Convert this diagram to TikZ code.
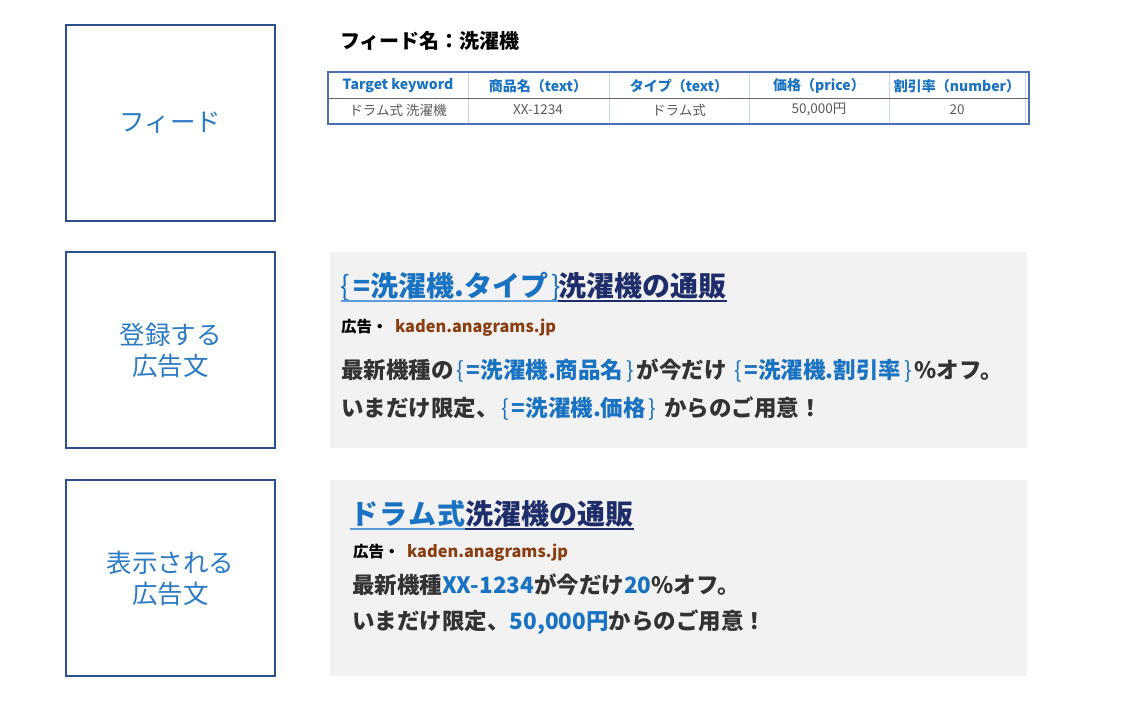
\documentclass[tikz,border=0pt]{standalone}
\usepackage{fontspec}
\setmainfont{Noto Sans CJK JP}
\definecolor{boxborder}{HTML}{2E4F8E}
\definecolor{labelblue}{HTML}{2B7BC4}
\definecolor{phblue}{HTML}{1A72C2}
\definecolor{navy}{HTML}{1F2D6B}
\definecolor{brownurl}{HTML}{8A3D0E}
\definecolor{txtgray}{HTML}{333333}
\definecolor{cellgray}{HTML}{595959}
\definecolor{panelbg}{HTML}{F2F2F2}
\definecolor{tabborder}{HTML}{4A6FB5}
\definecolor{colsep}{HTML}{C9D7EE}
\definecolor{ulblue}{HTML}{5A9BD8}
\newcommand{\lb}{{\mdseries\hspace{2.5pt}\{\hspace{3pt}}}
\newcommand{\rb}{{\mdseries\hspace{3pt}\}\hspace{2.5pt}}}
\tikzset{
  sidebox/.style={draw=boxborder, line width=1.6pt, minimum width=209pt, minimum height=196pt, inner sep=0pt,
    text=labelblue, align=center, font=\fontsize{25.5}{31}\selectfont},
  panel/.style={fill=panelbg, draw=none, minimum width=697pt, minimum height=196pt, inner sep=0pt},
  txt/.style={inner sep=0pt, anchor=base west},
  hdr/.style={inner sep=0pt, text=phblue, font=\fontsize{14}{16}\selectfont\bfseries},
  cell/.style={inner sep=0pt, text=cellgray, font=\fontsize{13.5}{16}\selectfont},
  headfont/.style={font=\fontsize{28}{30}\selectfont\bfseries},
  adfont/.style={font=\fontsize{15.5}{16}\selectfont\bfseries},
  urlfont/.style={font=\fontsize{16.3}{17}\selectfont\bfseries, text=brownurl},
  bodyfont/.style={font=\fontsize{22.5}{24}\selectfont\bfseries, text=txtgray},
}
\begin{document}
\begin{tikzpicture}[x=1pt,y=-1pt]
\useasboundingbox (0,0) rectangle (1126,704);
% left boxes
\node[sidebox] (b1) at (170.5,123) {フィード};
\node[sidebox] (b2) at (170.5,350) {登録する\\広告文};
\node[sidebox] (b3) at (170.5,578) {表示される\\広告文};
% feed title
\node[txt, font=\fontsize{20}{21}\selectfont\bfseries] (ftitle) at (340,48) {フィード名：洗濯機};
% table
\draw[colsep, line width=0.8pt] (468,72) -- (468,124) (609,72) -- (609,124) (749,72) -- (749,124) (889,72) -- (889,124) (1025,72) -- (1025,124);
\draw[gray!80!black, line width=0.8pt] (328,98) -- (1029,98);
\draw[tabborder, line width=1.2pt] (328,72) rectangle (1029,124);
\node[hdr] (h1) at (398,86) {Target keyword};
\node[hdr] (h2) at (538,86) {商品名（text）};
\node[hdr] (h3) at (679,86) {タイプ（text）};
\node[hdr] (h4) at (819,86) {価格（price）};
\node[hdr] (h5) at (957,86) {割引率（number）};
\node[cell] (c1) at (398,110) {ドラム式 洗濯機};
\node[cell] (c2) at (538,110) {XX-1234};
\node[cell] (c3) at (679,110) {ドラム式};
\node[cell] (c4) at (819,110) {50,000円};
\node[cell] (c5) at (957,110) {20};
% panels
\node[panel] (p2) at (678.5,350) {};
\node[panel] (p3) at (678.5,578) {};
% panel 2 content
\node[txt, headfont, text=phblue] (t2a) at (338,296) {\lb=洗濯機.タイプ\rb};
\node[txt, headfont, text=navy] (t2b) at ([xshift=-2.5pt]t2a.base east) {洗濯機の通販};
\draw[ulblue, line width=1.5pt] ([yshift=-5pt,xshift=3pt]t2a.base west) -- ([yshift=-5pt,xshift=-2.5pt]t2a.base east);
\draw[navy, line width=1.5pt] ([yshift=-5pt]t2b.base west) -- ([yshift=-5pt]t2b.base east);
\node[txt, adfont] (ad2a) at (341,332) {広告・};
\node[txt, urlfont] (ad2b) at ([xshift=7pt]ad2a.base east) {kaden.anagrams.jp};
\node[txt, bodyfont] (l2a) at (341,378) {最新機種の\textcolor{phblue}{\lb=洗濯機.商品名\rb}が今だけ \textcolor{phblue}{\lb=洗濯機.割引率\rb}\%オフ。};
\node[txt, bodyfont] (l2b) at (341,416) {いまだけ限定、\textcolor{phblue}{\lb=洗濯機.価格\rb} からのご用意！};
% panel 3 content
\node[txt, headfont, text=phblue] (t3a) at (350,524) {ド\hspace{1pt}ラ\hspace{1pt}ム\hspace{1pt}式};
\node[txt, headfont, text=navy] (t3b) at (t3a.base east) {洗濯機の通販};
\draw[ulblue, line width=1.5pt] ([yshift=-5pt]t3a.base west) -- ([yshift=-5pt]t3a.base east);
\draw[navy, line width=1.5pt] ([yshift=-5pt]t3b.base west) -- ([yshift=-5pt]t3b.base east);
\node[txt, adfont] (ad3a) at (353,557) {広告・};
\node[txt, urlfont] (ad3b) at ([xshift=7pt]ad3a.base east) {kaden.anagrams.jp};
\node[txt, bodyfont] (l3a) at (352,593) {最新機種\textcolor{phblue}{XX-1234}が今だけ\textcolor{phblue}{20}\%オフ。};
\node[txt, bodyfont] (l3b) at (352,629) {いまだけ限定、\textcolor{phblue}{50,000円}からのご用意！};
\end{tikzpicture}
\end{document}
